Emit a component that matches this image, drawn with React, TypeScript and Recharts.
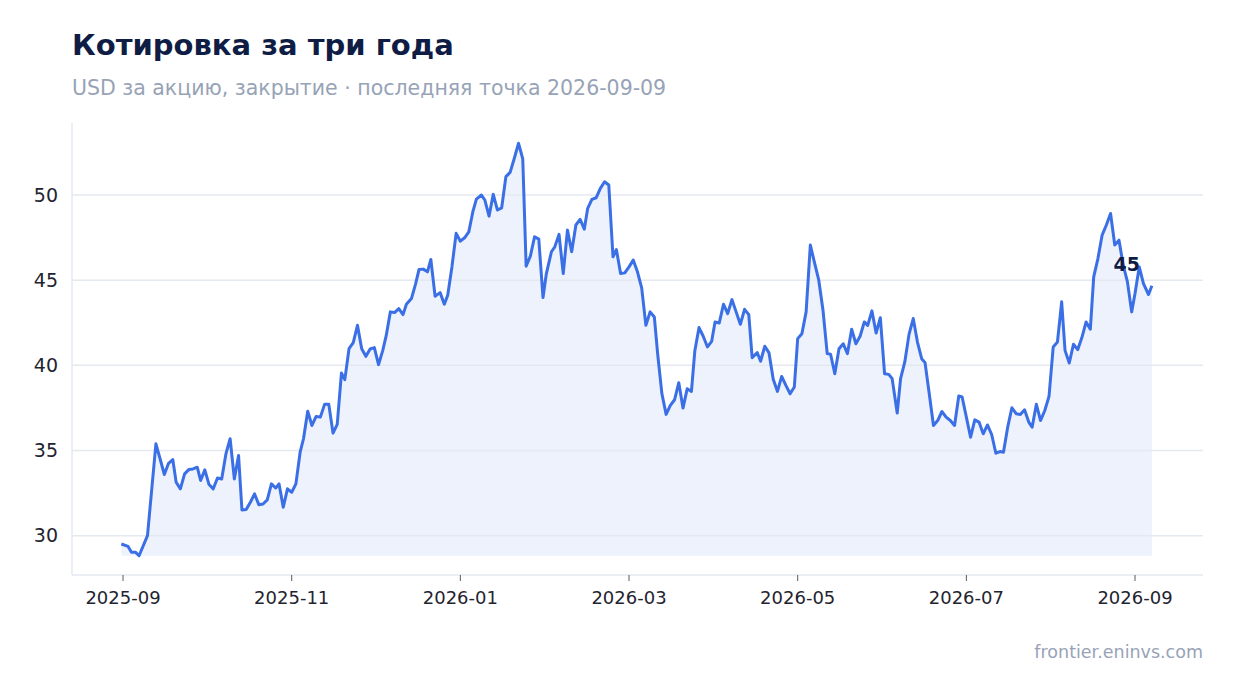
import { ComposedChart, Area, Line, XAxis, YAxis, ReferenceLine } from "recharts";

const TITLE = "Котировка за три года";
const SUBTITLE = "USD за акцию, закрытие · последняя точка 2026-09-09";
const SOURCE = "frontier.eninvs.com";

// months since 2025-09-01 (trading days)
const MONTH = [
  -0.02, 0.06, 0.1, 0.15, 0.19, 0.29, 0.39, 0.44, 0.49, 0.54,
  0.59, 0.63, 0.68, 0.73, 0.78, 0.83, 0.88, 0.92, 0.97, 1.02,
  1.07, 1.12, 1.17, 1.22, 1.27, 1.32, 1.37, 1.41, 1.46, 1.51,
  1.56, 1.61, 1.66, 1.71, 1.76, 1.81, 1.85, 1.9, 1.95, 2.0,
  2.05, 2.1, 2.14, 2.19, 2.24, 2.29, 2.34, 2.39, 2.44, 2.49,
  2.54, 2.59, 2.63, 2.68, 2.73, 2.78, 2.83, 2.88, 2.93, 2.98,
  3.03, 3.08, 3.12, 3.17, 3.22, 3.27, 3.32, 3.36, 3.42, 3.47,
  3.51, 3.56, 3.61, 3.65, 3.7, 3.76, 3.81, 3.85, 3.9, 3.95,
  4.0, 4.05, 4.1, 4.15, 4.19, 4.25, 4.29, 4.34, 4.39, 4.44,
  4.49, 4.54, 4.59, 4.64, 4.69, 4.74, 4.78, 4.83, 4.88, 4.93,
  4.98, 5.02, 5.08, 5.12, 5.17, 5.22, 5.27, 5.32, 5.37, 5.42,
  5.47, 5.51, 5.56, 5.61, 5.66, 5.71, 5.76, 5.81, 5.85, 5.9,
  5.95, 6.0, 6.05, 6.1, 6.15, 6.2, 6.25, 6.3, 6.34, 6.39,
  6.44, 6.49, 6.54, 6.59, 6.64, 6.69, 6.74, 6.78, 6.83, 6.88,
  6.93, 6.98, 7.02, 7.07, 7.12, 7.17, 7.22, 7.27, 7.32, 7.37,
  7.42, 7.46, 7.52, 7.56, 7.61, 7.66, 7.71, 7.76, 7.81, 7.86,
  7.91, 7.96, 8.0, 8.05, 8.1, 8.15, 8.2, 8.25, 8.3, 8.35,
  8.39, 8.44, 8.49, 8.54, 8.59, 8.64, 8.69, 8.74, 8.79, 8.83,
  8.88, 8.93, 8.98, 9.03, 9.08, 9.12, 9.18, 9.22, 9.27, 9.32,
  9.37, 9.42, 9.47, 9.51, 9.56, 9.61, 9.66, 9.71, 9.76, 9.81,
  9.86, 9.91, 9.95, 10.0, 10.05, 10.1, 10.15, 10.2, 10.25, 10.3,
  10.35, 10.4, 10.44, 10.49, 10.54, 10.59, 10.64, 10.69, 10.74, 10.78,
  10.83, 10.88, 10.93, 10.98, 11.03, 11.08, 11.13, 11.17, 11.22, 11.27,
  11.32, 11.37, 11.42, 11.47, 11.51, 11.56, 11.61, 11.66, 11.71, 11.76,
  11.81, 11.86, 11.91, 11.96, 12.0, 12.05, 12.1, 12.16, 12.2,
];

// close, USD
const PRICE = [
  29.51, 29.37, 29.02, 29.02, 28.82, 30.0, 35.39, 34.5, 33.59, 34.25,
  34.47, 33.14, 32.75, 33.63, 33.88, 33.92, 34.02, 33.24, 33.86, 33.0,
  32.75, 33.39, 33.33, 34.8, 35.69, 33.33, 34.71, 31.51, 31.53, 31.96,
  32.45, 31.82, 31.86, 32.1, 33.04, 32.8, 33.04, 31.67, 32.75, 32.55,
  33.04, 34.9, 35.69, 37.31, 36.47, 37.0, 36.96, 37.71, 37.71, 36.02,
  36.53, 39.55, 39.16, 40.98, 41.33, 42.35, 40.98, 40.53, 40.96, 41.04,
  40.04, 40.88, 41.73, 43.14, 43.1, 43.33, 42.98, 43.59, 43.92, 44.8,
  45.63, 45.65, 45.49, 46.22, 44.06, 44.27, 43.59, 44.12, 45.78, 47.75,
  47.29, 47.49, 47.84, 49.06, 49.76, 50.0, 49.71, 48.76, 50.04, 49.12,
  49.25, 51.08, 51.33, 52.16, 53.04, 52.12, 45.82, 46.41, 47.55, 47.41,
  43.98, 45.39, 46.67, 46.96, 47.69, 45.39, 47.94, 46.67, 48.24, 48.57,
  48.0, 49.22, 49.75, 49.84, 50.39, 50.78, 50.59, 46.37, 46.8, 45.39,
  45.43, 45.78, 46.18, 45.49, 44.55, 42.35, 43.14, 42.84, 40.65, 38.33,
  37.12, 37.65, 37.98, 38.98, 37.49, 38.63, 38.47, 40.84, 42.22, 41.71,
  41.08, 41.41, 42.55, 42.49, 43.59, 43.04, 43.86, 43.14, 42.41, 43.29,
  42.98, 40.45, 40.75, 40.24, 41.12, 40.73, 39.18, 38.47, 39.35, 38.82,
  38.33, 38.73, 41.57, 41.86, 43.14, 47.06, 46.02, 45.0, 43.24, 40.69,
  40.65, 39.51, 40.98, 41.27, 40.69, 42.12, 41.27, 41.71, 42.55, 42.35,
  43.2, 41.9, 42.8, 39.51, 39.47, 39.22, 37.2, 39.22, 40.2, 41.82,
  42.75, 41.37, 40.39, 40.16, 38.33, 36.47, 36.76, 37.29, 36.96, 36.76,
  36.47, 38.2, 38.14, 36.96, 35.78, 36.8, 36.67, 35.98, 36.5, 35.94,
  34.84, 34.94, 34.9, 36.37, 37.51, 37.16, 37.12, 37.39, 36.67, 36.37,
  37.71, 36.76, 37.35, 38.18, 41.08, 41.37, 43.73, 40.88, 40.14, 41.24,
  40.92, 41.63, 42.55, 42.12, 45.2, 46.27, 47.65, 48.24, 48.92, 47.06,
  47.35, 45.88, 44.9, 43.14, 44.22, 45.78, 44.8, 44.16, 44.67,
];

const X_TICKS = [0, 2, 4, 6, 8, 10, 12];
const X_LABELS = ["2025-09", "2025-11", "2026-01", "2026-03", "2026-05", "2026-07", "2026-09"];
const Y_TICKS = [30, 35, 40, 45, 50];

const COLORS = {
  line: "#3b6fe6",
  title: "#0f1d45",
  muted: "#97a3b6",
  grid: "#e4e8f0",
  tick: "#1f2430",
};

const FONT = "'DejaVu Sans', sans-serif";

const data = MONTH.map((m, i) => ({ m, price: PRICE[i] }));
const lastIndex = data.length - 1;
const minPrice = Math.min(...PRICE);

function LastLabel(props: any) {
  const { x, y, index, value } = props;
  if (index !== lastIndex) return null;
  return (
    <text
      x={x - 12}
      y={y - 15}
      textAnchor="end"
      fontSize={19}
      fontWeight="bold"
      fill={COLORS.title}
      fontFamily={FONT}
    >
      {Math.round(value)}
    </text>
  );
}

export default function App() {
  return (
    <div
      style={{
        position: "absolute",
        left: 0,
        top: 0,
        width: 1234,
        height: 693,
        background: "#fff",
        fontFamily: FONT,
      }}
    >
      <ComposedChart
        width={1234}
        height={693}
        data={data}
        margin={{ top: 123, right: 31, bottom: 88, left: 12 }}
      >
        <XAxis
          type="number"
          dataKey="m"
          domain={[-0.605, 12.806]}
          ticks={X_TICKS}
          tickFormatter={(v: number) => X_LABELS[X_TICKS.indexOf(v)] ?? ""}
          tick={{ fontSize: 18, fill: COLORS.tick, fontFamily: FONT }}
          tickLine={{ stroke: "#555b66" }}
          tickSize={6}
          tickMargin={10}
          axisLine={{ stroke: COLORS.grid, strokeWidth: 1.5 }}
          height={30}
          allowDataOverflow
        />
        <YAxis
          type="number"
          domain={[27.69, 54.23]}
          ticks={Y_TICKS}
          tick={{ fontSize: 19, fill: COLORS.tick, fontFamily: FONT }}
          tickLine={false}
          tickMargin={8}
          axisLine={{ stroke: COLORS.grid, strokeWidth: 1.5 }}
          width={60}
          allowDataOverflow
        />
        {Y_TICKS.map((v) => (
          <ReferenceLine key={v} y={v} stroke={COLORS.grid} strokeWidth={1.5} />
        ))}
        <Area
          type="linear"
          dataKey="price"
          baseValue={minPrice}
          stroke="none"
          fill={COLORS.line}
          fillOpacity={0.09}
          isAnimationActive={false}
        />
        <Line
          type="linear"
          dataKey="price"
          stroke={COLORS.line}
          strokeWidth={3}
          strokeLinejoin="round"
          dot={false}
          activeDot={false}
          label={<LastLabel />}
          isAnimationActive={false}
        />
      </ComposedChart>
      <svg
        width={1234}
        height={693}
        style={{ position: "absolute", left: 0, top: 0, pointerEvents: "none" }}
      >
        <text x={72} y={55} fontSize={29} fontWeight="bold" fill={COLORS.title} fontFamily={FONT}>
          {TITLE}
        </text>
        <text x={72} y={95} fontSize={20.5} fill={COLORS.muted} fontFamily={FONT}>
          {SUBTITLE}
        </text>
        <text x={1203} y={658} fontSize={17.5} textAnchor="end" fill={COLORS.muted} fontFamily={FONT}>
          {SOURCE}
        </text>
      </svg>
    </div>
  );
}
